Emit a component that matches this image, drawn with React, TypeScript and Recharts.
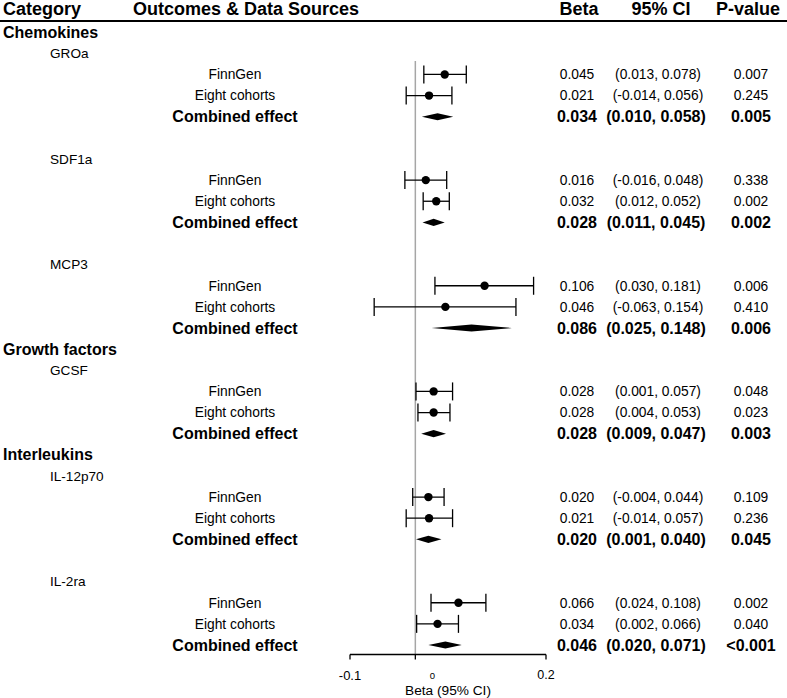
import React from 'react';
import { ScatterChart, Scatter, XAxis, YAxis, ErrorBar, ReferenceLine } from 'recharts';

const categories = ['Chemokines', 'Growth factors', 'Interleukins'];
const outcomes = ['GROa', 'SDF1a', 'MCP3', 'GCSF', 'IL-12p70', 'IL-2ra'];
const outcomeCategory = [0, 0, 0, 1, 2, 2];
const sources = ['FinnGen', 'Eight cohorts', 'Combined effect'];

// one row per outcome: FinnGen, Eight cohorts, Combined effect
const betas = [
  [0.045, 0.021, 0.034],
  [0.016, 0.032, 0.028],
  [0.106, 0.046, 0.086],
  [0.028, 0.028, 0.028],
  [0.02, 0.021, 0.02],
  [0.066, 0.034, 0.046],
];
const lowerCI = [
  [0.013, -0.014, 0.01],
  [-0.016, 0.012, 0.011],
  [0.03, -0.063, 0.025],
  [0.001, 0.004, 0.009],
  [-0.004, -0.014, 0.001],
  [0.024, 0.002, 0.02],
];
const upperCI = [
  [0.078, 0.056, 0.058],
  [0.048, 0.052, 0.045],
  [0.181, 0.154, 0.148],
  [0.057, 0.053, 0.047],
  [0.044, 0.057, 0.04],
  [0.108, 0.066, 0.071],
];
const pValues = [
  ['0.007', '0.245', '0.005'],
  ['0.338', '0.002', '0.002'],
  ['0.006', '0.410', '0.006'],
  ['0.048', '0.023', '0.003'],
  ['0.109', '0.236', '0.045'],
  ['0.002', '0.040', '<0.001'],
];
const xTicks = [-0.1, 0, 0.2];

const FONT = '"Liberation Sans", Arial, sans-serif';

// build table rows (y = row index from the top)
const rows: any[] = [];
let r = 0;
outcomes.forEach((name, i) => {
  if (i === 0 || outcomeCategory[i] !== outcomeCategory[i - 1]) {
    rows.push({ y: r++, kind: 'category', label: categories[outcomeCategory[i]] });
  } else {
    r++; // empty spacer row
  }
  rows.push({ y: r++, kind: 'outcome', label: name });
  sources.forEach((s, j) => {
    rows.push({
      y: r++,
      kind: 'source',
      label: s,
      combined: j === 2,
      beta: betas[i][j],
      low: lowerCI[i][j],
      high: upperCI[i][j],
      p: pValues[i][j],
    });
  });
});

const sourceRows = rows.filter((d) => d.kind === 'source');
const pointData = sourceRows
  .filter((d) => !d.combined)
  .map((d) => ({ x: d.beta, y: d.y, err: [d.beta - d.low, d.high - d.beta] }));

const DH = 0.17; // diamond half height in rows
const diamondData = sourceRows
  .filter((d) => d.combined)
  .flatMap((d) => [
    { x: d.low, y: d.y },
    { x: d.beta, y: d.y - DH },
    { x: d.high, y: d.y },
    { x: d.beta, y: d.y + DH },
  ]);

const labelData = rows.map((d) => ({ ...d, x: 0 }));

const LabelRow = (props: any) => {
  const { cy, payload } = props;
  const d = payload;
  if (d.kind === 'category') {
    return (
      <text x={3} y={cy} dy="0.35em" fontFamily={FONT} fontSize={16} fontWeight="bold" fill="#000">
        {d.label}
      </text>
    );
  }
  if (d.kind === 'outcome') {
    return (
      <text x={50} y={cy} dy="0.35em" fontFamily={FONT} fontSize={13.6} fill="#000">
        {d.label}
      </text>
    );
  }
  const bold = d.combined;
  const common = {
    y: cy,
    dy: '0.35em',
    fontFamily: FONT,
    fontSize: bold ? 16 : 13.8,
    fontWeight: bold ? 'bold' : 'normal',
    fill: '#000',
    textAnchor: 'middle' as const,
  };
  return (
    <g>
      <text x={235} {...common}>{d.label}</text>
      <text x={577} {...common}>{d.beta.toFixed(3)}</text>
      <text x={bold ? 656 : 658} {...common}>{`(${d.low.toFixed(3)}, ${d.high.toFixed(3)})`}</text>
      <text x={751} {...common}>{d.p}</text>
    </g>
  );
};

const DiamondLine = (props: any) => {
  const pts = props.points || [];
  const polys = [];
  for (let i = 0; i < pts.length; i += 4) {
    const s = pts.slice(i, i + 4).map((p: any) => `${p.x},${p.y}`).join(' ');
    polys.push(<polygon key={i} points={s} fill="#000" stroke="none" />);
  }
  return <g>{polys}</g>;
};

const tickFont: Record<string, number> = { '-0.1': 13, '0': 9.5, '0.2': 12.5 };

const AxisTick = (props: any) => {
  const { x, y, payload } = props;
  const label = String(payload.value);
  return (
    <text
      x={x + (payload.value === 0 ? 17 : 0)}
      y={y}
      dy={13.5}
      dominantBaseline="central"
      textAnchor="middle"
      fontFamily={FONT}
      fontSize={tickFont[label] || 12}
      fill="#000"
    >
      {label}
    </text>
  );
};

export default function App() {
  return (
    <div style={{ position: 'absolute', left: 0, top: 0, width: 787, height: 698, background: '#fff' }}>
      <svg width={787} height={30} style={{ position: 'absolute', left: 0, top: 0 }}>
        <g fontFamily={FONT} fontSize={18} fontWeight="bold" fill="#000">
          <text x={3} y={15}>Category</text>
          <text x={133} y={15}>Outcomes &amp; Data Sources</text>
          <text x={579} y={15} textAnchor="middle">Beta</text>
          <text x={661} y={15} textAnchor="middle">95% CI</text>
          <text x={748} y={15} textAnchor="middle">P-value</text>
        </g>
        <line x1={0} x2={787} y1={21} y2={21} stroke="#000" strokeWidth={2} />
      </svg>
      <ScatterChart
        width={787}
        height={698}
        margin={{ top: 21, right: 241, bottom: 3.5, left: 350 }}
        style={{ position: 'absolute', left: 0, top: 0 }}
      >
        <XAxis
          type="number"
          dataKey="x"
          domain={[-0.1, 0.2]}
          ticks={xTicks}
          interval={0}
          height={40}
          tickSize={5}
          stroke="#000"
          axisLine={{ stroke: '#000', strokeWidth: 1.3 }}
          tickLine={{ stroke: '#000', strokeWidth: 1.3 }}
          tick={<AxisTick />}
          label={{
            value: 'Beta (95% CI)',
            position: 'insideBottom',
            offset: 0,
            fill: '#000',
            fontSize: 13.7,
            fontFamily: FONT,
          }}
        />
        <YAxis type="number" dataKey="y" domain={[-0.53, 29.45]} reversed hide />
        <ReferenceLine
          segment={[
            { x: 0, y: 1.36 },
            { x: 0, y: 29.45 },
          ]}
          stroke="#a6a6a6"
          strokeWidth={1.5}
        />
        <Scatter
          data={labelData}
          isAnimationActive={false}
          shape={<LabelRow />}
        />
        <Scatter
          data={diamondData}
          isAnimationActive={false}
          line={DiamondLine}
          lineType="joint"
          shape={() => <g />}
        />
        <Scatter
          data={pointData}
          isAnimationActive={false}
          shape={(p: any) => <circle cx={p.cx} cy={p.cy} r={4.2} fill="#000" />}
        >
          <ErrorBar dataKey="err" direction="x" width={9} stroke="#000" strokeWidth={1.3} />
        </Scatter>
      </ScatterChart>
    </div>
  );
}
